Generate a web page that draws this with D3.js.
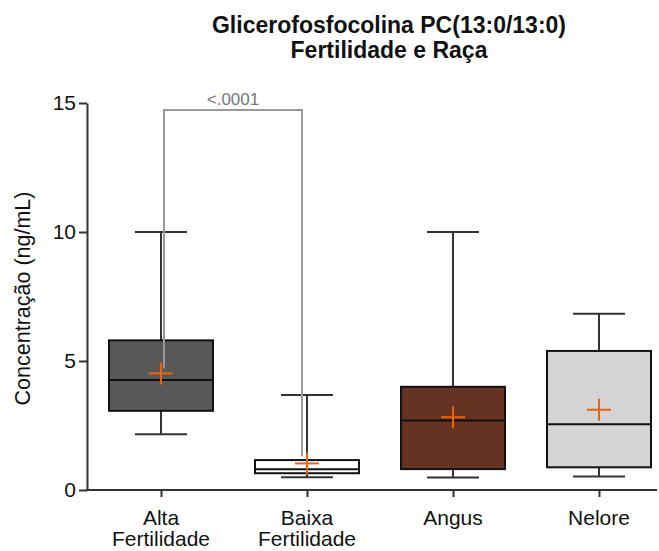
<!DOCTYPE html>
<html>
<head>
<meta charset="utf-8">
<script src="https://cdn.jsdelivr.net/npm/d3@7"></script>
<style>
  body { margin: 0; background: #fff; }
  svg { font-family: "Liberation Sans", Arial, sans-serif; }
</style>
</head>
<body>
<svg id="chart" width="659" height="551"></svg>
<script>
// box plot values
const categories = ["Alta Fertilidade", "Baixa Fertilidade", "Angus", "Nelore"];
const labelLines = [["Alta", "Fertilidade"], ["Baixa", "Fertilidade"], ["Angus"], ["Nelore"]];
const mins = [2.16, 0.49, 0.48, 0.52];
const q1s = [3.07, 0.65, 0.81, 0.88];
const medians = [4.26, 0.8, 2.69, 2.55];
const q3s = [5.8, 1.16, 4.0, 5.39];
const maxs = [10, 3.68, 10, 6.83];
const means = [4.52, 1.03, 2.82, 3.11];
const fills = ["#585858", "#ffffff", "#663221", "#d4d4d4"];
const yTicks = [0, 5, 10, 15];
const pLabel = "<.0001";

const svg = d3.select("#chart");
const margin = { top: 103, left: 87, bottom: 61, right: 2 };
const W = 659, H = 551;

const y = d3.scaleLinear().domain([0, 15]).range([H - margin.bottom, margin.top]);
const x = d3.scalePoint().domain(categories).range([161, 599]);

const boxW = 104, capW = 52;

const data = categories.map((c, i) => ({
  cat: c, min: mins[i], q1: q1s[i], med: medians[i], q3: q3s[i], max: maxs[i], mean: means[i], fill: fills[i]
}));

// title
const title = svg.append("text")
  .attr("x", 389).attr("y", 33)
  .attr("text-anchor", "middle")
  .attr("font-weight", "bold")
  .attr("font-size", 23)
  .attr("fill", "#111");
title.append("tspan").attr("x", 389).text("Glicerofosfocolina PC(13:0/13:0)");
title.append("tspan").attr("x", 389).attr("dy", 25).text("Fertilidade e Raça");

// y axis
const yAxis = svg.append("g")
  .attr("transform", `translate(${margin.left},0)`)
  .call(d3.axisLeft(y).tickValues(yTicks).tickSizeInner(8).tickSizeOuter(0).tickPadding(3));
yAxis.select(".domain").attr("stroke", "#333").attr("stroke-width", 2);
yAxis.selectAll(".tick line").attr("stroke", "#333").attr("stroke-width", 2);
yAxis.selectAll(".tick text").attr("font-size", 21).attr("fill", "#111")
  .attr("font-family", "Liberation Sans, Arial, sans-serif");

svg.append("text")
  .attr("transform", `translate(30,${(y(0) + y(15)) / 2 + 2}) rotate(-90)`)
  .attr("text-anchor", "middle")
  .attr("font-size", 21.5)
  .attr("fill", "#111")
  .text("Concentração (ng/mL)");

// x axis
const xAxis = svg.append("g")
  .attr("transform", `translate(0,${y(0)})`)
  .call(d3.axisBottom(x).tickSizeInner(7).tickSizeOuter(0).tickFormat(""));
xAxis.select(".domain").remove();
xAxis.selectAll(".tick line").attr("stroke", "#333").attr("stroke-width", 2);
svg.append("line")
  .attr("x1", margin.left - 1).attr("x2", 657)
  .attr("y1", y(0)).attr("y2", y(0))
  .attr("stroke", "#333").attr("stroke-width", 2);

labelLines.forEach((lines, i) => {
  const t = svg.append("text")
    .attr("x", x(categories[i])).attr("y", 525)
    .attr("text-anchor", "middle")
    .attr("font-size", 21)
    .attr("fill", "#111");
  lines.forEach((l, j) => {
    t.append("tspan").attr("x", x(categories[i])).attr("dy", j ? 21 : 0).text(l);
  });
});

// boxes
const g = svg.selectAll(".box").data(data).enter().append("g").attr("class", "box");

g.append("line")
  .attr("x1", d => x(d.cat)).attr("x2", d => x(d.cat))
  .attr("y1", d => y(d.max)).attr("y2", d => y(d.q3))
  .attr("stroke", "#333").attr("stroke-width", 2);
g.append("line")
  .attr("x1", d => x(d.cat)).attr("x2", d => x(d.cat))
  .attr("y1", d => y(d.q1)).attr("y2", d => y(d.min))
  .attr("stroke", "#333").attr("stroke-width", 2);
g.append("line")
  .attr("x1", d => x(d.cat) - capW / 2).attr("x2", d => x(d.cat) + capW / 2)
  .attr("y1", d => y(d.max)).attr("y2", d => y(d.max))
  .attr("stroke", "#333").attr("stroke-width", 2);
g.append("line")
  .attr("x1", d => x(d.cat) - capW / 2).attr("x2", d => x(d.cat) + capW / 2)
  .attr("y1", d => y(d.min)).attr("y2", d => y(d.min))
  .attr("stroke", "#333").attr("stroke-width", 2);

g.append("rect")
  .attr("x", d => x(d.cat) - boxW / 2)
  .attr("y", d => y(d.q3))
  .attr("width", boxW)
  .attr("height", d => y(d.q1) - y(d.q3))
  .attr("fill", d => d.fill)
  .attr("stroke", "#111").attr("stroke-width", 2);
g.append("line")
  .attr("x1", d => x(d.cat) - boxW / 2).attr("x2", d => x(d.cat) + boxW / 2)
  .attr("y1", d => y(d.med)).attr("y2", d => y(d.med))
  .attr("stroke", "#111").attr("stroke-width", 2);

// significance bracket (drawn before mean crosses)
const xa = x(categories[0]) + 3, xb = x(categories[1]) - 5, yTop = 110;
svg.append("path")
  .attr("d", `M${xa},${y(means[0]) - 5}V${yTop}H${xb}V${y(means[1]) - 7}`)
  .attr("fill", "none").attr("stroke", "#999").attr("stroke-width", 2);
svg.append("text")
  .attr("x", (xa + xb) / 2).attr("y", 105)
  .attr("text-anchor", "middle")
  .attr("font-size", 17)
  .attr("fill", "#777")
  .text(pLabel);

// mean markers
const cross = svg.selectAll(".mean").data(data).enter().append("g").attr("class", "mean");
cross.append("line")
  .attr("x1", d => x(d.cat) - 12).attr("x2", d => x(d.cat) + 12)
  .attr("y1", d => y(d.mean)).attr("y2", d => y(d.mean))
  .attr("stroke", "#e8650f").attr("stroke-width", 2);
cross.append("line")
  .attr("x1", d => x(d.cat)).attr("x2", d => x(d.cat))
  .attr("y1", d => y(d.mean) - 11).attr("y2", d => y(d.mean) + 11)
  .attr("stroke", "#e8650f").attr("stroke-width", 2);
</script>
</body>
</html>
